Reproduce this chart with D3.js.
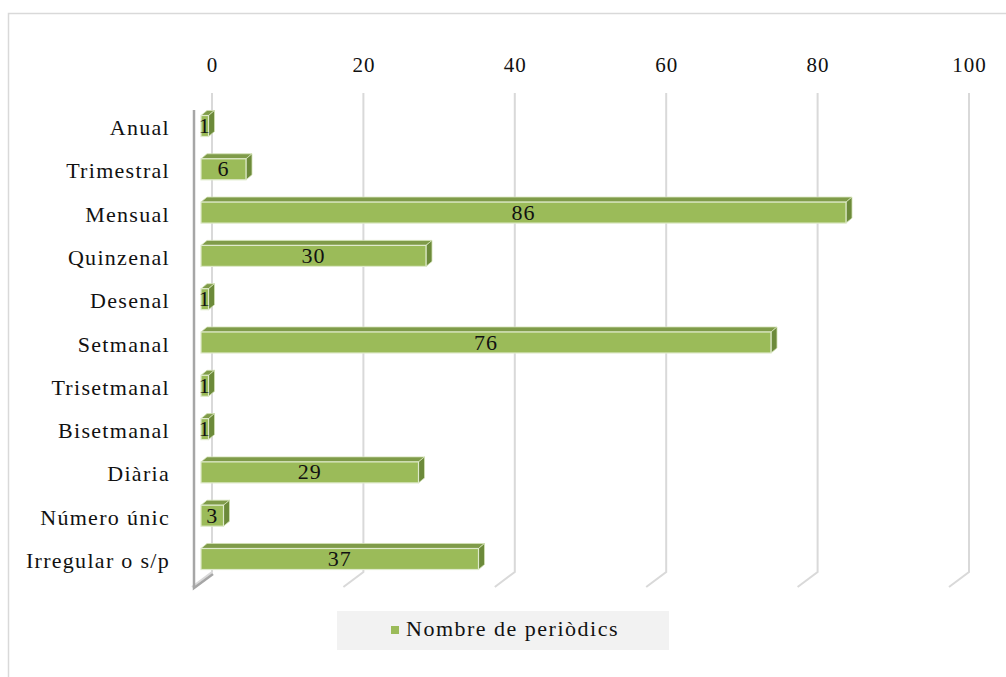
<!DOCTYPE html>
<html>
<head>
<meta charset="utf-8">
<script src="https://cdn.jsdelivr.net/npm/d3@7"></script>
<style>
  html, body { margin: 0; padding: 0; background: #fff; }
  svg text { font-family: "Liberation Serif", "Times New Roman", serif; fill: #111; }
</style>
</head>
<body>
<svg id="chart" width="1006" height="677"></svg>
<script>
// Periodicity of the periodicals
const categories = ["Anual", "Trimestral", "Mensual", "Quinzenal", "Desenal", "Setmanal",
                    "Trisetmanal", "Bisetmanal", "Diària", "Número únic", "Irregular o s/p"];
const values = [1, 6, 86, 30, 1, 76, 1, 1, 29, 3, 37];
const tickValues = [0, 20, 40, 60, 80, 100];
const seriesName = "Nombre de periòdics";

const svg = d3.select("#chart");

// depth offset of the 3D extrusion
const DX = 6, DY = -5;

// outer chart frame
svg.append("rect")
  .attr("x", 8.5).attr("y", 13.5).attr("width", 1010).attr("height", 680)
  .attr("fill", "#fff").attr("stroke", "#d9d9d9").attr("stroke-width", 1.5);

// back wall scale (gridlines) and front scale (bars)
const xBack = d3.scaleLinear().domain([0, 100]).range([212, 969]);
const xFront = d3.scaleLinear().domain([0, 100]).range([201, 951]);
const y = d3.scaleBand().domain(categories)
  .range([104.35, 580.65]).paddingInner(0.515).paddingOuter(0.2575);

const wallTop = 93, wallBottom = 572, floorDX = -20, floorDY = 15;

// gridlines on the back wall plus their floor segments
const grid = svg.append("g");
tickValues.forEach(t => {
  const gx = xBack(t);
  grid.append("path")
    .attr("d", `M${gx},${wallTop} L${gx},${wallBottom} L${gx + floorDX},${wallBottom + floorDY}`)
    .attr("fill", "none").attr("stroke", "#d9d9d9").attr("stroke-width", 2);
});

// top axis labels
const axis = d3.axisTop(xBack).tickValues(tickValues).tickSize(0).tickPadding(0);
const axisG = svg.append("g").attr("transform", "translate(0,72)").call(axis);
axisG.select(".domain").remove();
axisG.selectAll("text")
  .style("font-family", "Liberation Serif, serif")
  .style("font-size", "21px").style("letter-spacing", "1px")
  .attr("fill", "#111").attr("dy", 0);

// left wall line
svg.append("path")
  .attr("d", `M194,110 L194,588 L213,574`)
  .attr("fill", "none").attr("stroke", "#a6a6a6").attr("stroke-width", 2.5);

// bars
const bars = svg.append("g");
categories.forEach((c, i) => {
  const x0 = xFront(0), x1 = xFront(values[i]);
  const yt = y(c), yb = yt + y.bandwidth();
  const g = bars.append("g");
  // top face
  g.append("path")
    .attr("d", `M${x0},${yt} L${x1},${yt} L${x1 + DX},${yt + DY} L${x0 + DX},${yt + DY} Z`)
    .attr("fill", "#7f9b49").attr("stroke", "#d3e2b6").attr("stroke-width", 0.8);
  // side face
  g.append("path")
    .attr("d", `M${x1},${yt} L${x1 + DX},${yt + DY} L${x1 + DX},${yb + DY} L${x1},${yb} Z`)
    .attr("fill", "#6c8a3a").attr("stroke", "#d3e2b6").attr("stroke-width", 0.8);
  // front face
  g.append("rect")
    .attr("x", x0).attr("y", yt).attr("width", x1 - x0).attr("height", yb - yt)
    .attr("fill", "#9bbb59").attr("stroke", "#dfeacb").attr("stroke-width", 1.2);
  // value label
  g.append("text")
    .attr("x", (x0 + x1) / 2).attr("y", (yt + yb) / 2 + 2)
    .attr("text-anchor", "middle").attr("dominant-baseline", "middle")
    .style("font-size", "22px").style("letter-spacing", "1px")
    .text(values[i]);
});

// category labels
svg.append("g").selectAll("text").data(categories).join("text")
  .attr("x", 170).attr("y", d => y(d) + y.bandwidth() / 2 + 4)
  .attr("text-anchor", "end").attr("dominant-baseline", "middle")
  .style("font-size", "22px").style("letter-spacing", "1.3px")
  .text(d => d);

// legend
const leg = svg.append("g");
leg.append("rect").attr("x", 337).attr("y", 611).attr("width", 332).attr("height", 39)
  .attr("fill", "#f2f2f2");
leg.append("rect").attr("x", 391).attr("y", 626).attr("width", 8).attr("height", 8)
  .attr("fill", "#9bbb59");
leg.append("text").attr("x", 406).attr("y", 631)
  .attr("dominant-baseline", "middle")
  .style("font-size", "22px").style("letter-spacing", "1.5px")
  .text(seriesName);
</script>
</body>
</html>
